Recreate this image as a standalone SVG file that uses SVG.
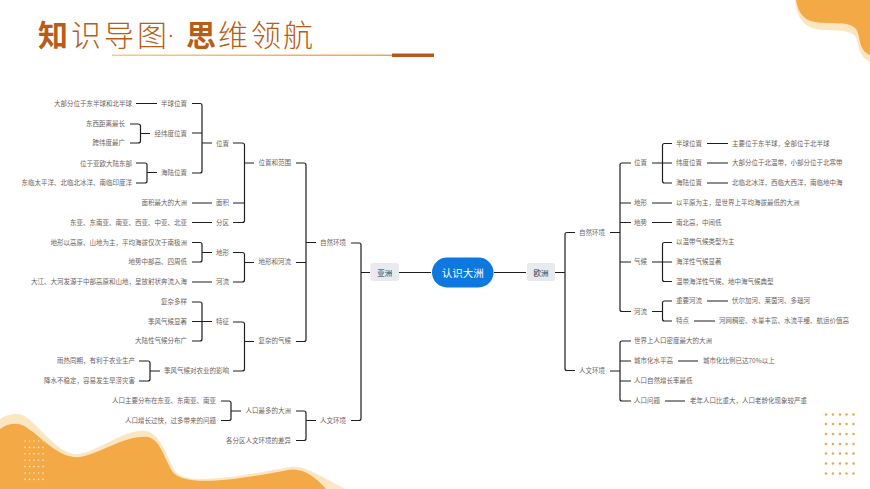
<svg xmlns="http://www.w3.org/2000/svg" width="870" height="489" viewBox="0 0 870 489">
<style>
text{font-family:"Noto Sans CJK SC","Noto Sans",sans-serif}
.t{font-size:6.5px;fill:#6e5f5c;dominant-baseline:central}
.e{text-anchor:end}
.ti{font-size:30px;fill:#b85c16;font-weight:300}
.b{font-weight:700}
.c{fill:none;stroke:#1f1f1f;stroke-width:1.2;stroke-linejoin:round}
.o{fill:#f3aa46}
.p{fill:#fbe6c2}
.d1{fill:#fdeac4}
.d2{fill:#e3ae52}
</style>
<defs>
<linearGradient id="g" x1="0" x2="1" y1="0" y2="0"><stop offset="0" stop-color="#f6c98f"/><stop offset="1" stop-color="#e9a458"/></linearGradient>
<circle id="dl" r="0.8" class="d1"/>
<circle id="dr" r="1.3" class="d2"/>
</defs>
<rect width="870" height="489" fill="#fff"/>
<g id="decor">
<path class="p" d="M795,0C796,14 801,25 815,29C830,32 848,28 855,36C860,44 857,56 870,62V0Z"/>
<path class="o" d="M796,0C798,12 803,20 815,22C830,25 848,20 856,29C861,37 858,50 870,55V0Z"/>
<path class="p" d="M0,419C8,414 18,412 26,417C45,432 60,455 78,454C98,452 125,428 146,431C160,434 165,452 174,470C185,486 230,478 290,467C305,465 320,476 345,489H0Z"/>
<path class="o" d="M0,429C8,423 18,422 26,427C45,440 60,459 80,457C100,454 125,435 148,437C160,440 163,455 172,471C183,487 230,481 288,470C302,467 315,476 326,489H0Z"/>
<g id="dots-left">
<use href="#dl" x="25" y="441"/><use href="#dl" x="29.5" y="441"/><use href="#dl" x="34" y="441"/><use href="#dl" x="38.5" y="441"/><use href="#dl" x="43" y="441"/>
<use href="#dl" x="25" y="447.4"/><use href="#dl" x="29.5" y="447.4"/><use href="#dl" x="34" y="447.4"/><use href="#dl" x="38.5" y="447.4"/><use href="#dl" x="43" y="447.4"/>
<use href="#dl" x="25" y="453.8"/><use href="#dl" x="29.5" y="453.8"/><use href="#dl" x="34" y="453.8"/><use href="#dl" x="38.5" y="453.8"/><use href="#dl" x="43" y="453.8"/>
<use href="#dl" x="25" y="460.2"/><use href="#dl" x="29.5" y="460.2"/><use href="#dl" x="34" y="460.2"/><use href="#dl" x="38.5" y="460.2"/><use href="#dl" x="43" y="460.2"/>
<use href="#dl" x="25" y="466.6"/><use href="#dl" x="29.5" y="466.6"/><use href="#dl" x="34" y="466.6"/><use href="#dl" x="38.5" y="466.6"/><use href="#dl" x="43" y="466.6"/>
<use href="#dl" x="25" y="473"/><use href="#dl" x="29.5" y="473"/><use href="#dl" x="34" y="473"/><use href="#dl" x="38.5" y="473"/><use href="#dl" x="43" y="473"/>
<use href="#dl" x="25" y="479.4"/><use href="#dl" x="29.5" y="479.4"/><use href="#dl" x="34" y="479.4"/><use href="#dl" x="38.5" y="479.4"/><use href="#dl" x="43" y="479.4"/>
</g>
<g id="dots-right">
<use href="#dr" x="826" y="414.5"/><use href="#dr" x="833" y="414.5"/><use href="#dr" x="840" y="414.5"/><use href="#dr" x="846.5" y="414.5"/><use href="#dr" x="853.5" y="414.5"/>
<use href="#dr" x="826" y="424"/><use href="#dr" x="833" y="424"/><use href="#dr" x="840" y="424"/><use href="#dr" x="846.5" y="424"/><use href="#dr" x="853.5" y="424"/>
<use href="#dr" x="826" y="434"/><use href="#dr" x="833" y="434"/><use href="#dr" x="840" y="434"/><use href="#dr" x="846.5" y="434"/><use href="#dr" x="853.5" y="434"/>
<use href="#dr" x="826" y="444"/><use href="#dr" x="833" y="444"/><use href="#dr" x="840" y="444"/><use href="#dr" x="846.5" y="444"/><use href="#dr" x="853.5" y="444"/>
<use href="#dr" x="826" y="453.5"/><use href="#dr" x="833" y="453.5"/><use href="#dr" x="840" y="453.5"/><use href="#dr" x="846.5" y="453.5"/><use href="#dr" x="853.5" y="453.5"/>
<use href="#dr" x="826" y="463.5"/><use href="#dr" x="833" y="463.5"/><use href="#dr" x="840" y="463.5"/><use href="#dr" x="846.5" y="463.5"/><use href="#dr" x="853.5" y="463.5"/>
<use href="#dr" x="826" y="473.5"/><use href="#dr" x="833" y="473.5"/><use href="#dr" x="840" y="473.5"/><use href="#dr" x="846.5" y="473.5"/><use href="#dr" x="853.5" y="473.5"/>
</g>
</g>
<g id="title">
<text class="ti b" x="38" y="46">知</text><text class="ti" x="71" y="46">识</text><text class="ti" x="104" y="46">导</text><text class="ti" x="137" y="46">图</text><text class="ti" x="167.500" y="41" style="font-family:'Liberation Sans',sans-serif;font-size:20px">·</text><text class="ti b" x="186" y="46">思</text><text class="ti" x="218" y="46">维</text><text class="ti" x="251" y="46">领</text><text class="ti" x="283" y="46">航</text>
<rect x="112" y="54.500" width="281" height="1.500" fill="url(#g)"/>
<rect x="392" y="53.500" width="42" height="3.500" fill="#b9581a"/>
</g>
<g id="connectors" class="c">
<path d="M136,103.500H157M192,103.500H200Q202,103.500 202,105.500V171Q202,173 200,173H192M192,133H202M202,143H212"/>
<path d="M130,124H138Q140.500,124 140.500,126V141Q140.500,143 138,143H130M140.500,133.500H150"/>
<path d="M136,163H145Q147,163 147,165V181Q147,183 145,183H136M147,172.500H157"/>
<path d="M233,143H242Q244.500,143 244.500,145V220.500Q244.500,222.500 242,222.500H233M233,203H244.500M244.500,163H254"/>
<path d="M192,203H212M192,222.500H212"/>
<path d="M192,242.500H200Q202,242.500 202,244.500V260Q202,262 200,262H192M202,252.500H212M192,282H212"/>
<path d="M233,252.500H242Q244.500,252.500 244.500,254.500V280Q244.500,282 242,282H233M244.500,262.500H254"/>
<path d="M192,302H200Q202,302 202,304V339Q202,341 200,341H192M192,321.500H212"/>
<path d="M233,322H242Q244.500,322 244.500,324V369Q244.500,371 242,371H233M244.500,341.500H254"/>
<path d="M139,361H148Q150,361 150,363V379Q150,381 148,381H139M150,371H160"/>
<path d="M221,401H229Q231,401 231,403V418.500Q231,420.500 229,420.500H221M231,411H241"/>
<path d="M296,163H304Q306,163 306,165V339.500Q306,341.500 304,341.500H296M296,262.500H306M306,242.500H316"/>
<path d="M296,411H304Q306,411 306,413V438.500Q306,440.500 304,440.500H296M306,420.500H316"/>
<path d="M351,243H359Q361,243 361,245V418.500Q361,420.500 359,420.500H351M361,272.500H370M399,272.500H431M494,272.500H526"/>
<path d="M555,272.500H565M575,232.500H567Q565,232.500 565,234.500V368.500Q565,370.500 567,370.500H575"/>
<path d="M610,232.500H620M631,163H622Q620,163 620,165V309.500Q620,311.500 622,311.500H631M620,203H631M620,222.500H631M620,262H631"/>
<path d="M652,163H662.500M672,143.500H664.500Q662.500,143.500 662.500,145.500V181Q662.500,183 664.500,183H672M662.500,163H672"/>
<path d="M707,143.500H728M707,163H728M707,183H728M652,203H672M652,222.500H672"/>
<path d="M652,262H672M672,242.500H664.500Q662.500,242.500 662.500,244.500V279.500Q662.500,281.500 664.500,281.500H672"/>
<path d="M652,311.500H662.500M672,301H664.500Q662.500,301 662.500,303V319Q662.500,321 664.500,321H672M707,301H728M694,321H715"/>
<path d="M610,371H620M631,341H622Q620,341 620,343V399Q620,401 622,401H631M620,361H631M620,381H631M678,361H698M665,401H685"/>
</g>
<g id="node-root"><rect x="432" y="257.500" width="61.500" height="30" rx="15" fill="#0d78e0"/><text x="462.700" y="272" font-size="10.500" fill="#fff" text-anchor="middle" dominant-baseline="central">认识大洲</text></g>
<g id="node-asia"><rect x="370.500" y="263" width="28.500" height="18" rx="2.500" fill="#e8eaed"/><text x="384.700" y="272" font-size="7.500" fill="#333" text-anchor="middle" dominant-baseline="central">亚洲</text></g>
<g id="node-europe"><rect x="527" y="263" width="28" height="18" rx="2.500" fill="#e8eaed"/><text x="541" y="272" font-size="7.500" fill="#333" text-anchor="middle" dominant-baseline="central">欧洲</text></g>
<g id="nodes-left">
<text class="t e" x="132" y="103">大部分位于东半球和北半球</text><text class="t e" x="187" y="103">半球位置</text>
<text class="t e" x="125" y="123">东西距离最长</text><text class="t e" x="125" y="142">跨纬度最广</text><text class="t e" x="187" y="132.500">经纬度位置</text>
<text class="t e" x="132" y="162.500">位于亚欧大陆东部</text><text class="t e" x="132" y="182">东临太平洋、北临北冰洋、南临印度洋</text><text class="t e" x="187" y="172">海陆位置</text>
<text class="t e" x="229" y="142.500">位置</text><text class="t e" x="291" y="162">位置和范围</text>
<text class="t e" x="187" y="202">面积最大的大洲</text><text class="t e" x="229" y="202">面积</text>
<text class="t e" x="187" y="222">东亚、东南亚、南亚、西亚、中亚、北亚</text><text class="t e" x="229" y="222">分区</text>
<text class="t e" x="187" y="242">地形以高原、山地为主&#xFF0C;平均海拔仅次于南极洲</text><text class="t e" x="187" y="261">地势中部高、四周低</text><text class="t e" x="229" y="251.500">地形</text>
<text class="t e" x="187" y="281">大江、大河发源于中部高原和山地&#xFF0C;呈放射状奔流入海</text><text class="t e" x="229" y="281">河流</text><text class="t e" x="291" y="261">地形和河流</text>
<text class="t e" x="187" y="301">复杂多样</text><text class="t e" x="187" y="321">季风气候显著</text><text class="t e" x="187" y="340">大陆性气候分布广</text><text class="t e" x="229" y="321">特征</text>
<text class="t e" x="135" y="360">雨热同期&#xFF0C;有利于农业生产</text><text class="t e" x="135" y="380">降水不稳定&#xFF0C;容易发生旱涝灾害</text><text class="t e" x="229" y="370">季风气候对农业的影响</text><text class="t e" x="291" y="340">复杂的气候</text>
<text class="t e" x="216" y="400">人口主要分布在东亚、东南亚、南亚</text><text class="t e" x="216" y="420">人口增长过快&#xFF0C;过多带来的问题</text><text class="t e" x="291" y="410">人口最多的大洲</text>
<text class="t e" x="291" y="440">各分区人文环境的差异</text>
<text class="t e" x="346" y="242">自然环境</text><text class="t e" x="346" y="420">人文环境</text>
</g>
<g id="nodes-right">
<text class="t" x="579" y="232">自然环境</text><text class="t" x="579" y="370">人文环境</text>
<text class="t" x="634" y="162">位置</text>
<text class="t" x="676" y="143">半球位置</text><text class="t" x="732" y="143">主要位于东半球&#xFF0C;全部位于北半球</text>
<text class="t" x="676" y="162">纬度位置</text><text class="t" x="732" y="162">大部分位于北温带&#xFF0C;小部分位于北寒带</text>
<text class="t" x="676" y="182">海陆位置</text><text class="t" x="732" y="182">北临北冰洋&#xFF0C;西临大西洋&#xFF0C;南临地中海</text>
<text class="t" x="634" y="202">地形</text><text class="t" x="676" y="202">以平原为主&#xFF0C;是世界上平均海拔最低的大洲</text>
<text class="t" x="634" y="222">地势</text><text class="t" x="676" y="222">南北高&#xFF0C;中间低</text>
<text class="t" x="634" y="261">气候</text><text class="t" x="676" y="241">以温带气候类型为主</text><text class="t" x="676" y="261">海洋性气候显著</text><text class="t" x="676" y="281">温带海洋性气候、地中海气候典型</text>
<text class="t" x="634" y="311">河流</text><text class="t" x="676" y="300">重要河流</text><text class="t" x="732" y="300">伏尔加河、莱茵河、多瑙河</text>
<text class="t" x="676" y="320">特点</text><text class="t" x="719" y="320">河网稠密、水量丰富、水流平缓、航运价值高</text>
<text class="t" x="634" y="340">世界上人口密度最大的大洲</text>
<text class="t" x="634" y="360">城市化水平高</text><text class="t" x="703" y="360">城市化比例已达70%以上</text>
<text class="t" x="634" y="380">人口自然增长率最低</text>
<text class="t" x="634" y="400">人口问题</text><text class="t" x="690" y="400">老年人口比重大&#xFF0C;人口老龄化现象较严重</text>
</g>
</svg>
